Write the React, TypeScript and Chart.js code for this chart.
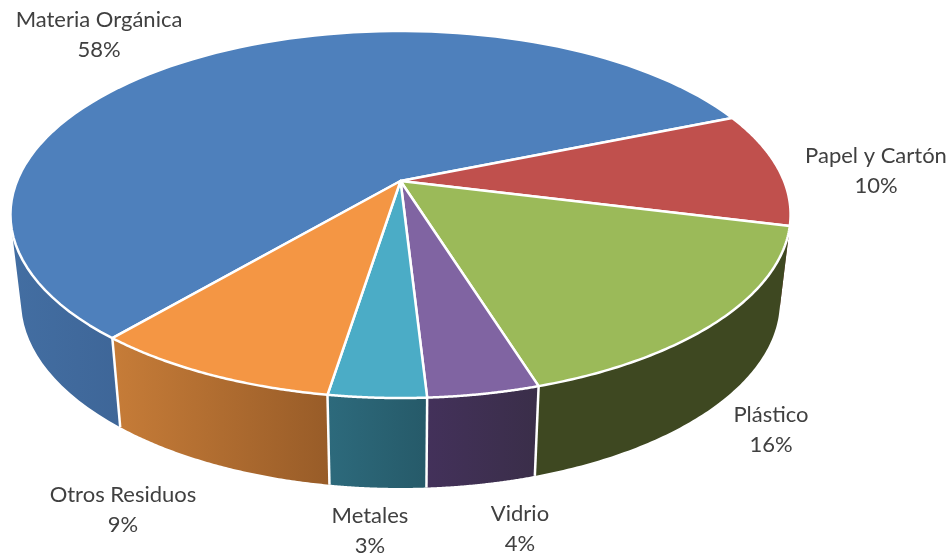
import React, { useEffect, useRef } from "react";
import { Chart, registerables } from "chart.js";

Chart.register(...registerables);

const categories = ["Materia Orgánica", "Papel y Cartón", "Plástico", "Vidrio", "Metales", "Otros Residuos"];
const shares = [57.6, 10.1, 16.3, 3.9, 3.4, 8.7];
const percentLabels = ["58%", "10%", "16%", "4%", "3%", "9%"];
const topColors = ["#4E80BC", "#C0504D", "#9BBA59", "#8064A2", "#4BACC6", "#F49644"];
const wallLeftColors = ["#436EA2", "#7A3230", "#3E4821", "#43315A", "#2D6A7C", "#C67C38"];
const wallRightColors = ["#3E6698", "#6E2D2B", "#3E4821", "#3A2E49", "#265A69", "#985C28"];
const labelCenterX = [99, 876, 771, 520, 370, 123];
const labelBaseY = [27, 163, 422, 521, 523, 502];

const W = 951;
const H = 555;
// Projection of the pie's two circular faces
const CX = 400.5;
const TOP = { y0: 181, a: 383.5, b: 177.4, k: -0.1826 };
const BOTTOM = { y0: 267.4, a: 373, b: 180.3, k: -0.1826 };
const proj = (f: typeof TOP, th: number) => {
  const u = Math.cos(th);
  const v = Math.sin(th);
  const d = 1 + f.k * v;
  return [CX + (f.a * u) / d, f.y0 + (f.b * v) / d];
};
const STEPS = 90;

const pie3d = {
  id: "pie3d",
  beforeDatasetsDraw(chart: any) {
    const ctx: CanvasRenderingContext2D = chart.ctx;
    const arcs = chart.getDatasetMeta(0).data;
    const order = arcs
      .map((_: any, i: number) => i)
      .sort(
        (p: number, q: number) =>
          Math.sin((arcs[p].startAngle + arcs[p].endAngle) / 2) -
          Math.sin((arcs[q].startAngle + arcs[q].endAngle) / 2)
      );
    // walls
    ctx.save();
    for (const i of order) {
      const s = arcs[i].startAngle;
      const e = arcs[i].endAngle;
      let minX = Infinity;
      let maxX = -Infinity;
      ctx.beginPath();
      for (let n = 0; n < STEPS; n++) {
        const t0 = s + ((e - s) * n) / STEPS;
        const t1 = s + ((e - s) * (n + 1)) / STEPS;
        const a = proj(TOP, t0);
        const b = proj(TOP, t1);
        const c = proj(BOTTOM, t1);
        const d = proj(BOTTOM, t0);
        if (Math.sin(t0) > 0.2) {
          minX = Math.min(minX, a[0], d[0]);
          maxX = Math.max(maxX, a[0], d[0]);
        }
        const pts = [a, b, c, d];
        let area = 0;
        for (let m = 0; m < 4; m++) {
          const p = pts[m];
          const q = pts[(m + 1) % 4];
          area += p[0] * q[1] - q[0] * p[1];
        }
        if (area < 0) pts.reverse();
        ctx.moveTo(pts[0][0], pts[0][1]);
        for (let m = 1; m < 4; m++) ctx.lineTo(pts[m][0], pts[m][1]);
        ctx.closePath();
      }
      if (minX < maxX) {
        const g = ctx.createLinearGradient(minX, 0, maxX, 0);
        g.addColorStop(0, wallLeftColors[i]);
        g.addColorStop(1, wallRightColors[i]);
        ctx.fillStyle = g;
      } else {
        ctx.fillStyle = wallLeftColors[i];
      }
      ctx.fill();
    }
    // separators on the visible front of the wall
    ctx.strokeStyle = "#FFFFFF";
    ctx.lineWidth = 2.5;
    for (let i = 0; i < arcs.length; i++) {
      const th = arcs[i].startAngle;
      if (Math.sin(th) < 0.5) continue;
      const a = proj(TOP, th);
      const b = proj(BOTTOM, th);
      ctx.beginPath();
      ctx.moveTo(a[0], a[1]);
      ctx.lineTo(b[0], b[1]);
      ctx.stroke();
    }
    // top faces
    ctx.lineJoin = "round";
    for (let i = 0; i < arcs.length; i++) {
      const s = arcs[i].startAngle;
      const e = arcs[i].endAngle;
      ctx.beginPath();
      ctx.moveTo(CX, TOP.y0);
      for (let n = 0; n <= STEPS; n++) {
        const p = proj(TOP, s + ((e - s) * n) / STEPS);
        ctx.lineTo(p[0], p[1]);
      }
      ctx.closePath();
      ctx.fillStyle = arcs[i].options.backgroundColor;
      ctx.fill();
      ctx.strokeStyle = "#FFFFFF";
      ctx.lineWidth = 2.5;
      ctx.stroke();
    }
    ctx.restore();
    return false;
  },
  afterDraw(chart: any) {
    const ctx: CanvasRenderingContext2D = chart.ctx;
    ctx.save();
    ctx.fillStyle = "#404040";
    ctx.font = "22px Lato";
    ctx.textAlign = "center";
    ctx.textBaseline = "alphabetic";
    categories.forEach((name, i) => {
      ctx.fillText(name, labelCenterX[i], labelBaseY[i]);
      ctx.fillText(percentLabels[i], labelCenterX[i], labelBaseY[i] + 29.5);
    });
    ctx.restore();
  },
};

export default function App() {
  const ref = useRef<HTMLCanvasElement>(null);
  useEffect(() => {
    document.body.style.margin = "0";
    const chart = new Chart(ref.current as HTMLCanvasElement, {
      type: "pie",
      data: {
        labels: categories,
        datasets: [{ data: shares, backgroundColor: topColors, borderColor: "#FFFFFF", borderWidth: 2 }],
      },
      options: {
        animation: false,
        responsive: false,
        rotation: 220.3,
        plugins: { legend: { display: false }, tooltip: { enabled: false } },
      },
      plugins: [pie3d],
    } as any);
    return () => chart.destroy();
  }, []);
  return <canvas ref={ref} width={W} height={H} style={{ display: "block", background: "#FFFFFF" }} />;
}
